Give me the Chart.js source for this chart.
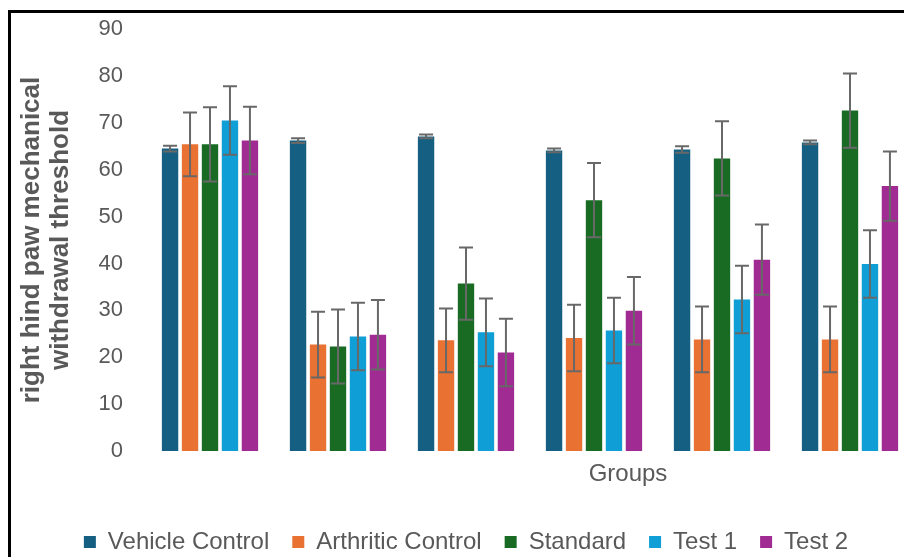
<!DOCTYPE html>
<html>
<head>
<meta charset="utf-8">
<script src="https://cdn.jsdelivr.net/npm/chart.js@4.4.1/dist/chart.umd.min.js"></script>
<style>
  html, body { margin: 0; padding: 0; background: #fff; overflow: hidden; }
  #wrap { position: relative; width: 952px; height: 564px; }
</style>
</head>
<body>
<div id="wrap"><canvas id="chart" width="952" height="564"></canvas></div>
<script>
// data
const groups = ['', '', '', '', '', ''];
const seriesNames = ['Vehicle Control', 'Arthritic Control', 'Standard', 'Test 1', 'Test 2'];

const vehicleControl = [64.5, 66.2, 67.1, 64.1, 64.3, 65.8];
const arthriticControl = [65.4, 22.7, 23.6, 24.1, 23.8, 23.8];
const standard = [65.4, 22.3, 35.7, 53.5, 62.4, 72.6];
const test1 = [70.5, 24.4, 25.3, 25.7, 32.3, 39.9];
const test2 = [66.2, 24.8, 21.0, 29.9, 40.8, 56.5];

const vehicleErr = [0.6, 0.5, 0.4, 0.4, 0.7, 0.4];
const arthriticErr = [6.8, 7.0, 6.8, 7.1, 7.0, 7.0];
const standardErr = [7.9, 7.9, 7.7, 7.9, 7.9, 7.9];
const test1Err = [7.3, 7.2, 7.2, 7.0, 7.2, 7.2];
const test2Err = [7.2, 7.4, 7.2, 7.2, 7.5, 7.4];

const yTicks = [0, 10, 20, 30, 40, 50, 60, 70, 80, 90];

const colors = ['#156082', '#E97132', '#196B24', '#0F9ED5', '#A02B93'];
const textGray = '#595959';
const fontFamily = "'Liberation Sans', Arial, sans-serif";

const values = [vehicleControl, arthriticControl, standard, test1, test2];
const errors = [vehicleErr, arthriticErr, standardErr, test1Err, test2Err];

// error bars drawn from the y scale
const errorBars = {
  id: 'errorBars',
  afterDatasetsDraw(chart) {
    const ctx = chart.ctx;
    const y = chart.scales.y;
    ctx.save();
    ctx.strokeStyle = '#686868';
    ctx.lineWidth = 2;
    chart.data.datasets.forEach((ds, i) => {
      const meta = chart.getDatasetMeta(i);
      meta.data.forEach((bar, j) => {
        const v = ds.data[j];
        const e = ds.errors[j];
        const top = y.getPixelForValue(v + e);
        const bot = y.getPixelForValue(v - e);
        ctx.beginPath();
        ctx.moveTo(bar.x, top); ctx.lineTo(bar.x, bot);
        ctx.moveTo(bar.x - 7, top); ctx.lineTo(bar.x + 7, top);
        ctx.moveTo(bar.x - 7, bot); ctx.lineTo(bar.x + 7, bot);
        ctx.stroke();
      });
    });
    ctx.restore();
  }
};

// frame and the "Groups" caption
const decorations = {
  id: 'decorations',
  afterDraw(chart) {
    const ctx = chart.ctx;
    ctx.save();
    ctx.strokeStyle = '#000';
    ctx.lineWidth = 3;
    ctx.beginPath();
    ctx.moveTo(9.5, chart.height);
    ctx.lineTo(9.5, 11.5);
    ctx.lineTo(chart.width, 11.5);
    ctx.stroke();
    ctx.fillStyle = textGray;
    ctx.font = '24px ' + fontFamily;
    ctx.textAlign = 'center';
    ctx.textBaseline = 'middle';
    ctx.fillText('Groups', 628, 474);
    ctx.restore();
  }
};

new Chart(document.getElementById('chart'), {
  type: 'bar',
  data: {
    labels: groups,
    datasets: seriesNames.map((name, i) => ({
      label: name,
      data: values[i],
      errors: errors[i],
      backgroundColor: colors[i],
      borderWidth: 0,
      categoryPercentage: 0.78,
      barPercentage: 0.82
    }))
  },
  options: {
    responsive: false,
    animation: false,
    layout: { padding: { top: 29, left: 18, right: 38, bottom: 0 } },
    plugins: {
      tooltip: { enabled: false },
      legend: {
        position: 'bottom',
        labels: {
          boxWidth: 12,
          boxHeight: 12,
          padding: 23,
          color: textGray,
          font: { family: fontFamily, size: 24 }
        }
      }
    },
    scales: {
      x: {
        grid: { display: false },
        border: { display: false },
        ticks: { display: false },
        afterFit: (scale) => { scale.height = 56; }
      },
      y: {
        min: 0,
        max: 90,
        afterBuildTicks: (scale) => { scale.ticks = yTicks.map(v => ({ value: v })); },
        grid: { display: false, drawTicks: false },
        border: { display: false },
        ticks: {
          padding: 23,
          color: textGray,
          font: { family: fontFamily, size: 22 }
        },
        title: {
          display: true,
          text: ['right hind paw mechanical', 'withdrawal threshold'],
          color: textGray,
          padding: { top: 0, bottom: 0 },
          font: { family: fontFamily, size: 26, weight: 'bold', lineHeight: 1.1 }
        },
        afterFit: (scale) => {
          scale.width = 128;
          scale.paddingTop = 0;
          scale.paddingBottom = 0;
        }
      }
    }
  },
  plugins: [errorBars, decorations]
});
</script>
</body>
</html>
